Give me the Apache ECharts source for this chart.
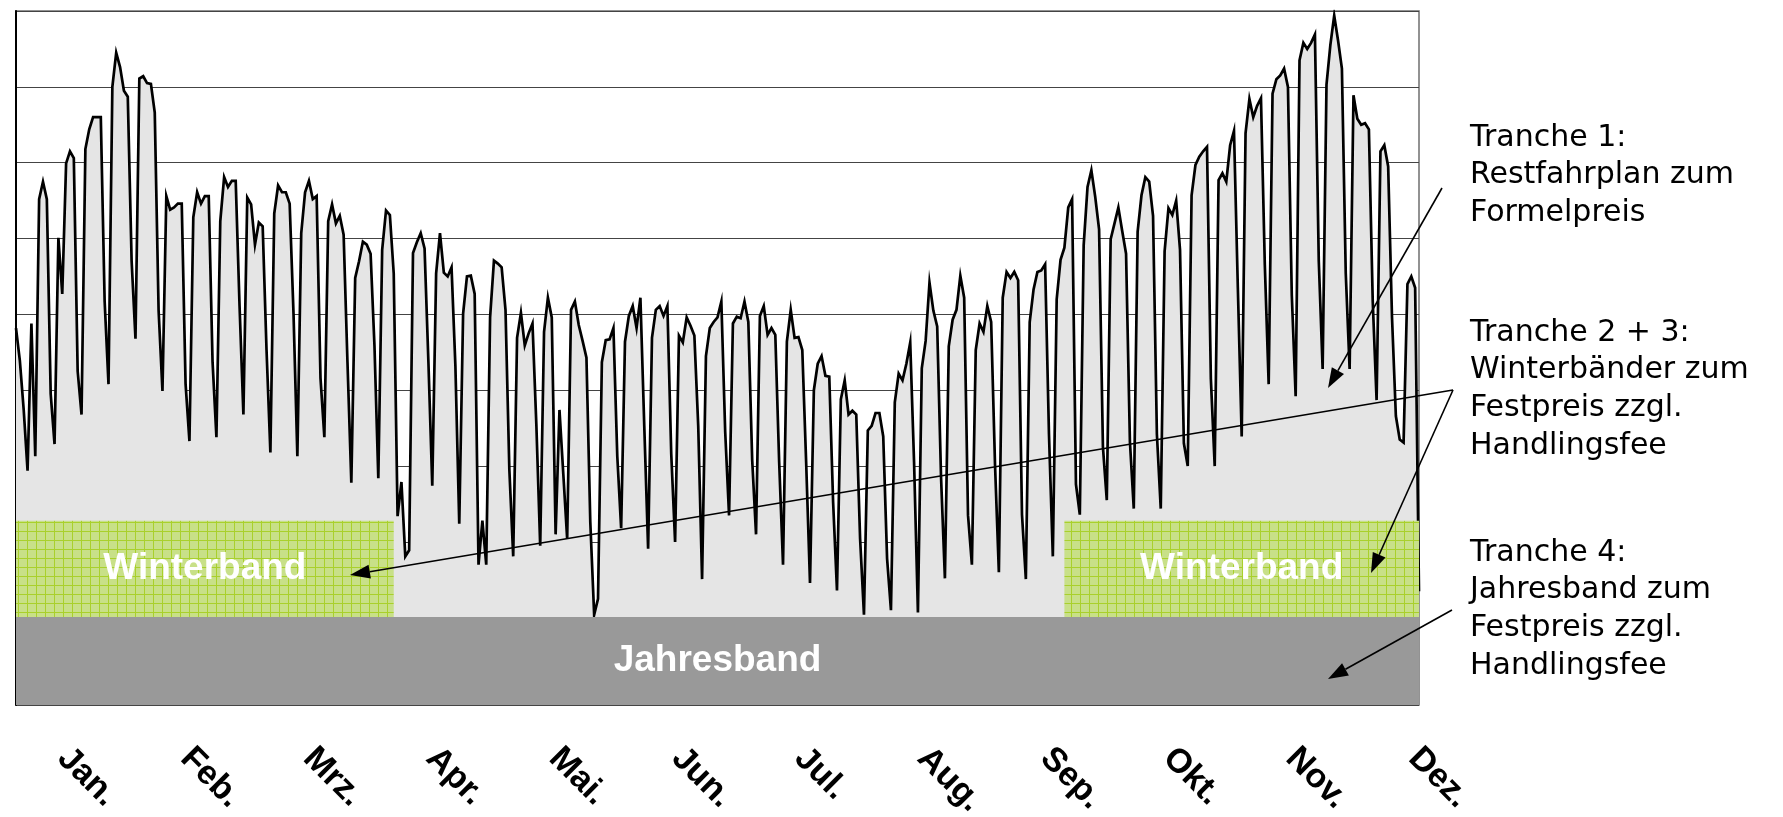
<!DOCTYPE html>
<html>
<head>
<meta charset="utf-8">
<title>Tranchen Lastprofil</title>
<script src="https://cdn.jsdelivr.net/npm/echarts@6/dist/echarts.min.js"></script>
<style>
  html, body { margin: 0; padding: 0; background: #fff; }
  #chart { width: 1783px; height: 817px; }
</style>
</head>
<body>
<div id="chart"></div>
<script>
// Monatsbeschriftung
const months = ['Jan.', 'Feb.', 'Mrz.', 'Apr.', 'Mai.', 'Jun.', 'Jul.', 'Aug.', 'Sep.', 'Okt.', 'Nov.', 'Dez.']

// Tageswerte (relative Einheiten)
const jan = [49.7, 45.4, 38.9, 30.9, 50.3, 32.8, 66.7, 69, 66.7, 41, 34.4, 61.6, 54.2, 71.4, 73, 72.1, 44, 38.3, 73.3, 75.9, 77.5, 77.5, 77.5, 53.2, 42.3, 81.5, 86, 84.1, 81, 80.2, 58.5]
const feb = [48.3, 82.6, 82.9, 82, 81.9, 78.1, 52, 41.4, 67.1, 65.3, 65.6, 66.1, 66.1, 42.3, 34.8, 64.3, 67.6, 66.1, 67.1, 67.1, 45.2, 35.3, 63.8, 69.6, 68.3, 69.1, 69.1, 52.6]
const mrz = [38.3, 66.9, 66, 60.7, 63.6, 63.1, 46.8, 33.3, 64.8, 68.5, 67.6, 67.6, 66.1, 51.6, 32.8, 62.2, 67.6, 69.1, 66.7, 67.1, 43.1, 35.3, 63.8, 66, 63.5, 64.5, 62, 45.2, 29.3, 56.3, 58.5]
const apr = [61.1, 60.7, 59.5, 47.4, 29.9, 60, 65.2, 64.6, 56.9, 24.9, 29.4, 19.6, 20.4, 59.6, 61, 62.2, 60.2, 45.2, 28.9, 56.9, 62.2, 57, 56.5, 57.7, 44.7, 23.9, 51.6, 56.5, 56.6, 54.2]
const mai = [18.5, 24.3, 18.5, 51.1, 58.6, 58.2, 57.7, 52.1, 31, 19.6, 48.4, 51.7, 47.4, 49, 50.3, 37, 21, 49.2, 53.7, 51.1, 22.5, 38.9, 30.4, 21.9, 52.1, 53.2, 50.1, 48, 45.8, 24.1, 11.9]
const jun = [14, 45.2, 48.1, 48.2, 49.7, 32.8, 23.3, 47.9, 51.3, 52.6, 49.7, 53.7, 36.8, 20.6, 48.4, 52.1, 52.6, 51.3, 52.6, 33.1, 21.5, 48.7, 47.8, 51.1, 50, 48.7, 36.8, 16.6, 46, 49.7]
const jul = [50.5, 51.1, 53.2, 36, 25, 50.3, 51.2, 51, 53.2, 50.5, 32.3, 22.5, 51.3, 52.6, 48.8, 49.7, 48.8, 32, 18.5, 47.9, 52.1, 48.4, 48.5, 46.8, 32, 16.1, 41.5, 45, 46, 43.4, 43.3]
const aug = [26.7, 15.1, 40.3, 42.8, 38.3, 38.8, 38.3, 21.9, 11.9, 36.2, 36.8, 38.5, 38.5, 35.4, 19.3, 12.5, 39.9, 43.7, 42.8, 45, 47.8, 32, 12.2, 44.4, 48, 55.7, 52, 49.9, 30, 16.7, 47.3]
const sep = [50.8, 52.1, 56.6, 53.7, 25, 18.5, 46.8, 50.3, 49.2, 52.6, 50.5, 31.7, 17.5, 53.7, 57.1, 56.3, 57.1, 56, 25.1, 16.6, 50.5, 54.8, 57.1, 57.3, 58.1, 35.7, 19.6, 53.5, 58.7, 60.3]
const okt = [65.6, 66.7, 29.1, 25.1, 60.6, 68.3, 70.5, 67, 62.7, 34, 27, 61.4, 63.5, 65.6, 62.5, 59.5, 34.7, 25.9, 62.4, 67.2, 69.6, 69, 64.5, 35.7, 25.9, 59.8, 65.5, 64.6, 66.5, 60, 34.5]
const nov = [31.5, 67.2, 71.2, 72.3, 73, 73.6, 43, 31.5, 69.2, 70.1, 69, 73.8, 75.7, 55, 35.4, 75.4, 79.9, 77.5, 79, 80, 58, 42.3, 80.6, 82.5, 83, 83.9, 81.5, 54, 40.7, 85]
const dez = [87.3, 86.5, 87.3, 88.4, 58.5, 44.3, 81.8, 87, 90.9, 87.6, 83.9, 56.9, 44.3, 80.4, 77.3, 76.5, 76.7, 75.9, 53.2, 40.2, 73, 73.8, 71, 51.1, 38.1, 35, 34.6, 55.5, 56.5, 55, 15]

// Baender
const jahresbandTop = 11.6
const winterbandTop = 24.3
const winterPeriods = [[0, 98], [272, 364]]

// Texte rechts
const notes = [
    { y: 119, text: 'Tranche 1:\nRestfahrplan zum\nFormelpreis' },
    { y: 314, text: 'Tranche 2 + 3:\nWinterbänder zum\nFestpreis zzgl.\nHandlingsfee' },
    { y: 534, text: 'Tranche 4:\nJahresband zum\nFestpreis zzgl.\nHandlingsfee' }
]
const arrows = [
    [[1442, 188], [1328, 388]],
    [[1453, 390], [350, 575]],
    [[1453, 390], [1371, 573]],
    [[1452, 610], [1328, 679]]
]

const load = [].concat(jan, feb, mrz, apr, mai, jun, jul, aug, sep, okt, nov, dez)
const loadData = load.map((v, i) => [i, v])

// gruenes Karomuster fuer die Winterbaender
function winterPattern(){
    const c = document.createElement('canvas')
    c.width = 9
    c.height = 9
    const ctx = c.getContext('2d')
    ctx.fillStyle = '#c8e088'
    ctx.fillRect(0, 0, 9, 9)
    ctx.fillStyle = '#a9d02c'
    ctx.fillRect(0, 0, 9, 1)
    ctx.fillRect(0, 0, 1, 9)
    return c
}
const pattern = { image: winterPattern(), repeat: 'repeat' }

const bandAreas = [
    [{ name: 'Jahresband', coord: [0, 0], itemStyle: { color: '#999999' } }, { coord: [364, jahresbandTop] }]
]
winterPeriods.forEach(p => {
    bandAreas.push([
        { name: 'Winterband', coord: [p[0], jahresbandTop], itemStyle: { color: pattern } },
        { coord: [p[1], winterbandTop] }
    ])
})

function arrowGraphic(from, to){
    const dx = to[0] - from[0]
    const dy = to[1] - from[1]
    const len = Math.hypot(dx, dy)
    const ux = dx / len, uy = dy / len
    const headLen = 20, headW = 7
    const bx = to[0] - ux * headLen
    const by = to[1] - uy * headLen
    return [
        {
            type: 'line', z: 100, silent: true,
            shape: { x1: from[0], y1: from[1], x2: bx, y2: by },
            style: { stroke: '#000', lineWidth: 1.6 }
        },
        {
            type: 'polygon', z: 100, silent: true,
            shape: { points: [to, [bx - uy * headW, by + ux * headW], [bx + uy * headW, by - ux * headW]] },
            style: { fill: '#000' }
        }
    ]
}

const graphics = []
notes.forEach(n => {
    graphics.push({
        type: 'text', x: 1470, y: n.y, z: 100, silent: true,
        style: {
            text: n.text, fill: '#000',
            font: '30px "DejaVu Sans"', lineHeight: 37.7, verticalAlign: 'top'
        }
    })
})
arrows.forEach(a => graphics.push(...arrowGraphic(a[0], a[1])))

const chart = echarts.init(document.getElementById('chart'))
chart.setOption({
    animation: false,
    grid: [
        { left: 16, top: 11, width: 1403, height: 694, show: true, borderColor: '#6f6f6f', borderWidth: 1.5, backgroundColor: '#fff', outerBoundsMode: 'none' },
        { left: 63, top: 700, width: 1351, height: 44, outerBoundsMode: 'none' }
    ],
    xAxis: [
        { gridIndex: 0, type: 'value', min: 0, max: 364, show: false },
        {
            gridIndex: 1, type: 'category', data: months, boundaryGap: false,
            axisLine: { show: false }, axisTick: { show: false }, splitLine: { show: false },
            axisLabel: {
                interval: 0, rotate: -45, margin: 9, color: '#000',
                fontSize: 34, fontWeight: 'bold', fontFamily: '"Liberation Sans", Arial, sans-serif'
            }
        }
    ],
    yAxis: [
        {
            gridIndex: 0, type: 'value', min: 0, max: 91.5,
            axisLine: { show: true, lineStyle: { color: '#000', width: 2 } },
            axisTick: { show: false }, axisLabel: { show: false }, splitLine: { show: false }
        },
        {
            // nur fuer die Gitterlinien (von oben gezaehlt)
            gridIndex: 0, type: 'value', inverse: true, min: 0, max: 91.5, interval: 10,
            axisLine: { show: false }, axisTick: { show: false }, axisLabel: { show: false },
            splitLine: { show: true, lineStyle: { color: '#444', width: 1.2 } }
        },
        { gridIndex: 1, type: 'value', show: false }
    ],
    series: [
        {
            name: 'Last',
            type: 'line',
            xAxisIndex: 0,
            yAxisIndex: 0,
            data: loadData,
            symbol: 'none',
            silent: true,
            z: 2,
            lineStyle: { color: '#000', width: 2.7, join: 'miter' },
            areaStyle: { color: '#e5e5e5', opacity: 1 },
            markArea: {
                z: 10,
                silent: true,
                label: {
                    show: true, position: 'inside', formatter: '{b}',
                    color: '#fff', fontSize: 37, fontWeight: 'bold',
                    fontFamily: '"Liberation Sans", Arial, sans-serif'
                },
                data: bandAreas
            }
        }
    ],
    graphic: graphics
})
</script>
</body>
</html>
